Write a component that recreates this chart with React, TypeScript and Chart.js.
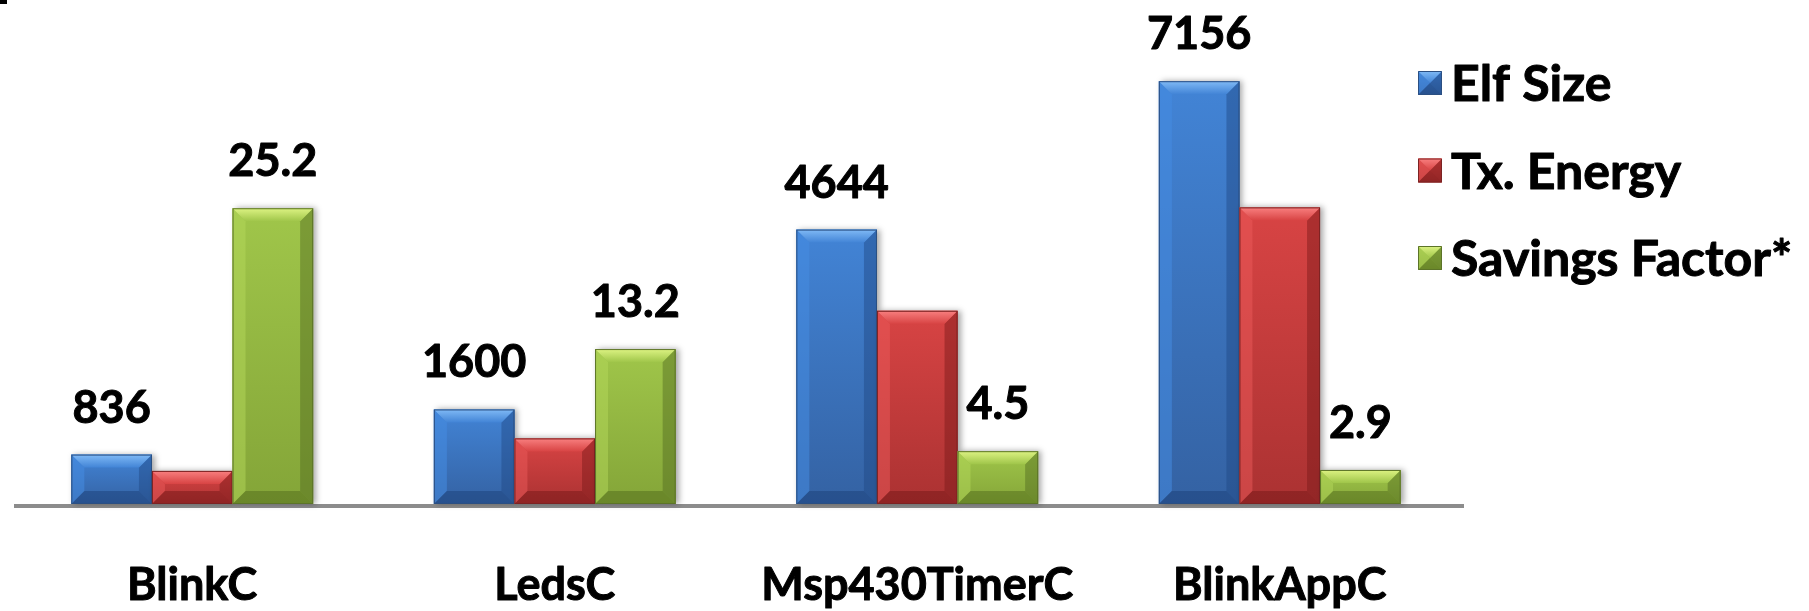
import React, { useEffect, useRef } from "react";
import { Chart, registerables } from "chart.js";

Chart.register(...registerables);

// ---- data ----
const categories = ["BlinkC", "LedsC", "Msp430TimerC", "BlinkAppC"];
const seriesNames = ["Elf Size", "Tx. Energy", "Savings Factor*"];
const elfSize = [836, 1600, 4644, 7156];
const txEnergy = [560, 1110, 3270, 5020];
const savingsFactor = [25.2, 13.2, 4.5, 2.9];
// series whose values are printed above the bars
const labelledSeries = [0, 2];

// ---- look ----
type Palette = {
  faceTop: string;
  faceBottom: string;
  topLight: string;
  left: string;
  right: string;
  bottom: string;
  edge: string;
};

const palettes: Palette[] = [
  {
    faceTop: "#4284d6",
    faceBottom: "#3462a3",
    topLight: "#80baf6",
    left: "rgba(70,140,225,0.55)",
    right: "rgba(30,70,130,0.45)",
    bottom: "rgba(25,60,115,0.45)",
    edge: "#2b4f82",
  },
  {
    faceTop: "#d84444",
    faceBottom: "#ab3232",
    topLight: "#f98080",
    left: "rgba(235,90,90,0.5)",
    right: "rgba(120,25,25,0.45)",
    bottom: "rgba(110,20,20,0.45)",
    edge: "#7c2323",
  },
  {
    faceTop: "#a0c64a",
    faceBottom: "#84a538",
    topLight: "#ddf383",
    left: "rgba(180,215,90,0.5)",
    right: "rgba(80,105,30,0.45)",
    bottom: "rgba(75,100,25,0.45)",
    edge: "#5c7428",
  },
];

const FONT = "bold 45px Lato, 'Open Sans', sans-serif";
const LEGEND_FONT = "bold 50px Lato, 'Open Sans', sans-serif";

function drawBevelBox(
  ctx: CanvasRenderingContext2D,
  x0: number,
  y0: number,
  x1: number,
  y1: number,
  pal: Palette,
  bevel: number,
  shadow: boolean
) {
  const w = x1 - x0;
  const h = y1 - y0;
  if (w <= 0 || h <= 0) return;
  const b = Math.min(bevel, w / 2, h / 2);

  ctx.save();
  if (shadow) {
    ctx.shadowColor = "rgba(0,0,0,0.35)";
    ctx.shadowBlur = 6;
    ctx.shadowOffsetX = 3;
    ctx.shadowOffsetY = 0;
  }
  const face = ctx.createLinearGradient(0, y0, 0, y1);
  face.addColorStop(0, pal.faceTop);
  face.addColorStop(1, pal.faceBottom);
  ctx.fillStyle = face;
  ctx.fillRect(x0, y0, w, h);
  ctx.restore();

  const poly = (pts: number[][], fill: string | CanvasGradient) => {
    ctx.beginPath();
    ctx.moveTo(pts[0][0], pts[0][1]);
    for (let i = 1; i < pts.length; i++) ctx.lineTo(pts[i][0], pts[i][1]);
    ctx.closePath();
    ctx.fillStyle = fill;
    ctx.fill();
  };

  ctx.save();
  // left bevel
  poly(
    [
      [x0, y0],
      [x0 + b, y0 + b],
      [x0 + b, y1 - b],
      [x0, y1],
    ],
    pal.left
  );
  // right bevel
  poly(
    [
      [x1, y0],
      [x1 - b, y0 + b],
      [x1 - b, y1 - b],
      [x1, y1],
    ],
    pal.right
  );
  // bottom bevel
  poly(
    [
      [x0, y1],
      [x0 + b, y1 - b],
      [x1 - b, y1 - b],
      [x1, y1],
    ],
    pal.bottom
  );
  // top bevel (highlight)
  const top = ctx.createLinearGradient(0, y0, 0, y0 + b);
  top.addColorStop(0, pal.topLight);
  top.addColorStop(1, pal.faceTop);
  poly(
    [
      [x0, y0],
      [x1, y0],
      [x1 - b, y0 + b],
      [x0 + b, y0 + b],
    ],
    top
  );
  // outline
  ctx.strokeStyle = pal.edge;
  ctx.lineWidth = 1;
  ctx.strokeRect(x0 + 0.5, y0 + 0.5, w - 1, h - 1);
  ctx.restore();
}

// heavy text: fill plus a thin stroke of the same colour
function boldText(ctx: CanvasRenderingContext2D, text: string, x: number, y: number) {
  ctx.fillText(text, x, y);
  ctx.strokeText(text, x, y);
}

// axis line under the bars
const baselinePlugin = {
  id: "baseline",
  beforeDatasetsDraw(chart: any) {
    const { ctx, chartArea } = chart;
    ctx.save();
    ctx.fillStyle = "#8c8c8c";
    ctx.fillRect(chartArea.left + 3, chartArea.bottom, chartArea.right - chartArea.left, 4);
    ctx.restore();
  },
};

// bevelled bar faces drawn over each bar element
const bevelPlugin = {
  id: "bevelBars",
  afterDatasetsDraw(chart: any) {
    const ctx = chart.ctx;
    chart.data.datasets.forEach((_ds: any, i: number) => {
      const meta = chart.getDatasetMeta(i);
      const pal = palettes[i];
      meta.data.forEach((el: any) => {
        const p = el.getProps(["x", "y", "base", "width"], true);
        const x0 = p.x - p.width / 2;
        const x1 = p.x + p.width / 2;
        drawBevelBox(ctx, x0, p.y, x1, p.base, pal, 13, true);
      });
    });
  },
};

// value labels, category labels and legend
const textPlugin = {
  id: "texts",
  afterDraw(chart: any) {
    const { ctx, chartArea } = chart;
    const xScale = chart.scales.x;
    ctx.save();
    ctx.fillStyle = "#000";
    ctx.strokeStyle = "#000";
    ctx.lineWidth = 1;
    ctx.lineJoin = "round";
    ctx.textAlign = "center";
    ctx.textBaseline = "alphabetic";
    ctx.font = FONT;

    labelledSeries.forEach((i) => {
      const meta = chart.getDatasetMeta(i);
      const values = chart.data.datasets[i].data;
      meta.data.forEach((el: any, j: number) => {
        boldText(ctx, String(values[j]), el.x, el.y - 32);
      });
    });

    categories.forEach((c, j) => {
      boldText(ctx, c, xScale.getPixelForValue(j), chartArea.bottom + 96);
    });

    // legend
    const lx = 1418;
    const box = 24;
    const firstCenter = 83;
    const step = 87.5;
    ctx.textAlign = "left";
    ctx.font = LEGEND_FONT;
    seriesNames.forEach((name, i) => {
      const cy = firstCenter + i * step;
      drawBevelBox(ctx, lx, cy - box / 2, lx + box, cy + box / 2, palettes[i], box / 2, false);
      ctx.fillStyle = "#000";
      ctx.strokeStyle = "#000";
      ctx.lineWidth = 1;
      boldText(ctx, name, lx + 33, cy + 18);
    });
    ctx.restore();
  },
};

export default function App() {
  const canvasRef = useRef<HTMLCanvasElement | null>(null);

  useEffect(() => {
    if (!canvasRef.current) return;
    const chart = new Chart(canvasRef.current, {
      type: "bar",
      data: {
        labels: categories,
        datasets: [
          { label: seriesNames[0], data: elfSize, yAxisID: "y", backgroundColor: palettes[0].faceTop },
          { label: seriesNames[1], data: txEnergy, yAxisID: "y", backgroundColor: palettes[1].faceTop },
          { label: seriesNames[2], data: savingsFactor, yAxisID: "y2", backgroundColor: palettes[2].faceTop },
        ],
      },
      options: {
        animation: false,
        responsive: true,
        maintainAspectRatio: false,
        layout: { padding: { left: 11, right: 348, top: 60, bottom: 107 } },
        datasets: { bar: { categoryPercentage: 0.667, barPercentage: 1, borderWidth: 0 } },
        plugins: {
          legend: { display: false },
          tooltip: { enabled: false },
        },
        scales: {
          x: { display: false },
          y: { display: false, min: 0, max: 7515 },
          y2: { display: false, min: 0, max: 37.83 },
        },
      },
      plugins: [baselinePlugin, bevelPlugin, textPlugin],
    });
    return () => chart.destroy();
  }, []);

  return (
    <div
      style={{
        position: "fixed",
        left: 0,
        top: 0,
        width: 1809,
        height: 611,
        background: "#fff",
      }}
    >
      <div style={{ position: "absolute", left: 0, top: 0, width: 7, height: 4, background: "#000" }} />
      <canvas ref={canvasRef} />
    </div>
  );
}
